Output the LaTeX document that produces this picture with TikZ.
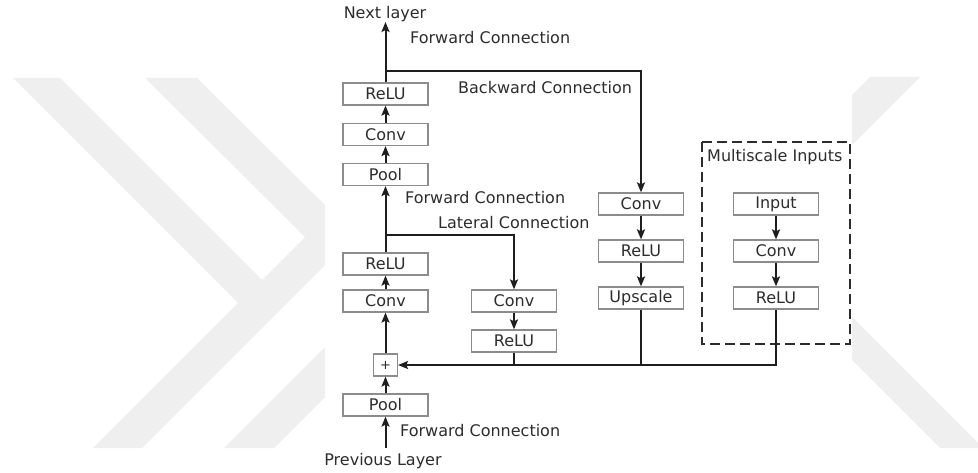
\documentclass[tikz,border=0pt]{standalone}
\usepackage{fontspec}
\setmainfont{DejaVu Sans}
\usetikzlibrary{arrows.meta}
\definecolor{wmark}{RGB}{239,239,239}
\definecolor{boxline}{RGB}{140,140,140}
\definecolor{ink}{RGB}{45,45,45}
\definecolor{wire}{RGB}{30,30,30}
\tikzset{
  blk/.style={draw=boxline, line width=1.2pt, fill=white, rectangle,
    minimum width=85pt, minimum height=22pt, inner sep=0pt,
    text=ink, font=\fontsize{16}{19}\selectfont},
  sumbox/.style={draw=boxline, line width=1.2pt, fill=white, rectangle,
    minimum width=24pt, minimum height=22pt, inner sep=0pt,
    text=ink, font=\fontsize{13}{15}\selectfont},
  lbl/.style={anchor=base west, inner sep=0pt, text=ink,
    font=\fontsize{16}{19}\selectfont},
  conn/.style={draw=wire, line width=2pt,
    -{Stealth[length=10pt,width=8pt,inset=2pt]}},
  wire/.style={draw=wire, line width=2pt},
  group/.style={draw=ink, line width=2.4pt, dash pattern=on 10pt off 5pt}
}
\begin{document}
\begin{tikzpicture}[x=1pt,y=-1pt]
\useasboundingbox (0,0) rectangle (978,473);
% background mark
\fill[wmark] (13,78) -- (60,78) -- (262,280) -- (305,237) -- (145,78) -- (197,78)
  -- (355,235) -- (142,448) -- (93,448) -- (238,303) -- cycle;
\fill[wmark] (340,332) -- (340,382) -- (274,448) -- (224,448) -- cycle;
\fill[wmark] (870,77) -- (920,77) -- (840,157) -- (840,107) -- cycle;
\fill[wmark] (840,305) -- (978,443) -- (978,448) -- (940,448) -- (840,348) -- cycle;
\fill[white] (325,0) rectangle (852,473);

% main column
\node[blk] (relu3) at (385.5,94) {ReLU};
\node[blk] (conv3) at (385.5,134.5) {Conv};
\node[blk] (pool2) at (385.5,174.5) {Pool};
\node[blk] (relu1) at (385.5,264) {ReLU};
\node[blk] (conv1) at (385.5,301) {Conv};
\node[sumbox] (plus) at (385.5,365) {+};
\node[blk] (pool1) at (385.5,405) {Pool};
% lateral branch
\node[blk] (lconv) at (514,301) {Conv};
\node[blk] (lrelu) at (514,341) {ReLU};
% backward branch
\node[blk] (bconv) at (641,204) {Conv};
\node[blk] (brelu) at (641,251) {ReLU};
\node[blk] (bup) at (641,298) {Upscale};
% multiscale inputs
\node[blk] (input) at (776,204) {Input};
\node[blk] (mconv) at (776,251) {Conv};
\node[blk] (mrelu) at (776,298) {ReLU};
\draw[group] (702,142) rectangle (850,344);

% labels
\node[lbl, anchor=base] (nextl) at (385,19) {Next layer};
\node[lbl] (fw1) at (410,44) {Forward Connection};
\node[lbl] (bw) at (458,94) {Backward Connection};
\node[lbl] (fw2) at (405,204) {Forward Connection};
\node[lbl] (lat) at (438,229) {Lateral Connection};
\node[lbl] (fw3) at (400,436) {Forward Connection};
\node[lbl, anchor=base] (prevl) at (383,465) {Previous Layer};
\node[lbl] (msi) at (707,162) {Multiscale Inputs};

% junctions and free ends
\coordinate (top) at (385.5,22);
\coordinate (bot) at (385.5,448);
\coordinate (bsplit) at (385.5,71);
\coordinate (lsplit) at (385.5,235);

% forward path
\draw[conn] (bot) -- (pool1.south);
\draw[conn] (pool1.north) -- (plus.south);
\draw[conn] (plus.north) -- (conv1.south);
\draw[conn] (conv1.north) -- (relu1.south);
\draw[conn] (relu1.north) -- (pool2.south);
\draw[conn] (pool2.north) -- (conv3.south);
\draw[conn] (conv3.north) -- (relu3.south);
\draw[conn] (relu3.north) -- (top);
% lateral path
\draw[conn] (lsplit) -| (lconv.north);
\draw[conn] (lconv.south) -- (lrelu.north);
% backward path
\draw[conn] (bsplit) -| (bconv.north);
\draw[conn] (bconv.south) -- (brelu.north);
\draw[conn] (brelu.south) -- (bup.north);
% multiscale path
\draw[conn] (input.south) -- (mconv.north);
\draw[conn] (mconv.south) -- (mrelu.north);
% merge into the sum
\draw[conn] (mrelu.south) |- (plus.east);
\draw[wire] (bup.south) -- (bup.south |- plus.east);
\draw[wire] (lrelu.south) -- (lrelu.south |- plus.east);
\end{tikzpicture}
\end{document}
